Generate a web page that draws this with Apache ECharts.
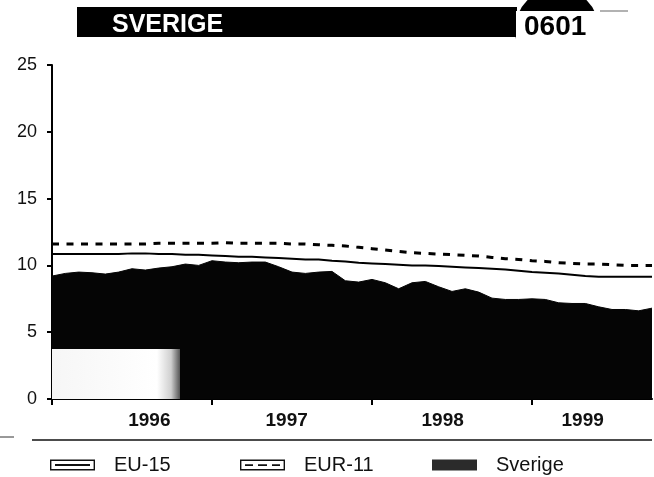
<!DOCTYPE html>
<html>
<head>
<meta charset="utf-8">
<script src="https://cdn.jsdelivr.net/npm/echarts@6/dist/echarts.min.js"></script>
<style>
  html, body { margin: 0; padding: 0; background: #fff; }
  #chart { width: 654px; height: 477px; }
</style>
</head>
<body>
<div id="chart"></div>
<script>
// maandelijkse waarden jan 1996 - okt 1999
var years = ["1996", "1997", "1998", "1999"];
var months = [];
years.forEach(function (y) {
  for (var m = 1; m <= 12; m++) {
    if (months.length < 46) months.push(y + "-" + (m < 10 ? "0" + m : m));
  }
});

var eu15 = [
  10.85, 10.85, 10.85, 10.85, 10.85, 10.85, 10.9, 10.9, 10.85, 10.85, 10.8, 10.8,
  10.75, 10.7, 10.65, 10.65, 10.6, 10.55, 10.5, 10.45, 10.45, 10.35, 10.3, 10.2,
  10.15, 10.1, 10.05, 10.0, 10.0, 9.95, 9.9, 9.85, 9.8, 9.75, 9.7, 9.6,
  9.5, 9.45, 9.4, 9.3, 9.2, 9.15, 9.15, 9.15, 9.15, 9.15
];
var eur11 = [
  11.6, 11.6, 11.6, 11.6, 11.6, 11.6, 11.6, 11.6, 11.65, 11.65, 11.65, 11.65,
  11.65, 11.7, 11.65, 11.65, 11.65, 11.65, 11.6, 11.6, 11.55, 11.5, 11.45, 11.35,
  11.25, 11.15, 11.05, 10.95, 10.9, 10.85, 10.8, 10.75, 10.7, 10.6, 10.5, 10.45,
  10.35, 10.3, 10.2, 10.15, 10.1, 10.1, 10.05, 10.0, 10.0, 10.0
];
var sverige = [
  9.2, 9.4, 9.5, 9.45, 9.35, 9.5, 9.75, 9.65, 9.8, 9.9, 10.1, 10.0,
  10.35, 10.25, 10.2, 10.25, 10.25, 9.9, 9.5, 9.4, 9.5, 9.55, 8.85, 8.75,
  8.95, 8.7, 8.25, 8.7, 8.8, 8.4, 8.05, 8.25, 8.0, 7.55, 7.45, 7.45,
  7.5, 7.45, 7.2, 7.15, 7.15, 6.9, 6.7, 6.7, 6.6, 6.8
];
var yTicks = [0, 5, 10, 15, 20, 25];

function pairs(arr) {
  return arr.map(function (v, i) { return [i, v]; });
}

var FONT = "Liberation Sans, Arial, sans-serif";
var iconSolid = "path://M0 0H45V11H0Z M1.4 1.4V9.6H43.6V1.4Z M5 4.6H40V6.6H5Z";
var iconDash = "path://M0 0H45V11H0Z M1.4 1.4V9.6H43.6V1.4Z M5 4.8H13V6.4H5Z M18 4.8H27V6.4H18Z M32 4.8H40V6.4H32Z";

function legendAt(left, name, icon, color) {
  return {
    left: left,
    top: 450,
    itemWidth: 45,
    itemHeight: 11,
    selectedMode: false,
    textStyle: { fontFamily: FONT, fontSize: 20, color: "#111", padding: [0, 0, 0, 14] },
    data: [{ name: name, icon: icon, itemStyle: { color: color, borderWidth: 0 } }],
  };
}

var myChart = echarts.init(document.getElementById("chart"), null, { renderer: "canvas" });
var option = {
  animation: false,
  backgroundColor: "#fff",
  grid: { left: 52, right: 2, top: 65, bottom: 78, containLabel: false },
  legend: [
    legendAt(45, "EU-15", iconSolid, "#111"),
    legendAt(235, "EUR-11", iconDash, "#111"),
    legendAt(427, "Sverige", "rect", "#2b2b2b"),
  ],
  xAxis: {
    type: "value",
    min: 0,
    max: months.length - 1,
    splitLine: { show: false },
    axisLine: { show: true, onZero: false, lineStyle: { color: "#000", width: 2 } },
    axisTick: {
      show: true,
      customValues: [0, 12, 24, 36],
      length: 6,
      lineStyle: { color: "#000", width: 2 },
    },
    axisLabel: {
      customValues: [7.3, 17.6, 29.3, 39.8],
      formatter: function (v) { return years[Math.floor(v / 12)]; },
      fontFamily: FONT,
      fontSize: 19,
      fontWeight: "bold",
      color: "#111",
      margin: 12,
    },
  },
  yAxis: {
    type: "value",
    min: yTicks[0],
    max: yTicks[yTicks.length - 1],
    interval: 5,
    splitLine: { show: false },
    axisLine: { show: true, lineStyle: { color: "#000", width: 2 } },
    axisTick: { show: true, length: 5, lineStyle: { color: "#000", width: 2 } },
    axisLabel: { fontFamily: FONT, fontSize: 18, color: "#111", margin: 15 },
  },
  series: [
    {
      name: "Sverige",
      type: "line",
      data: pairs(sverige),
      showSymbol: false,
      lineStyle: { color: "#050505", width: 1 },
      itemStyle: { color: "#050505" },
      areaStyle: { color: "#050505", opacity: 1 },
      z: 2,
      markArea: {
        silent: true,
        z: 5,
        itemStyle: {
          color: {
            type: "linear", x: 0, y: 0, x2: 1, y2: 0,
            colorStops: [
              { offset: 0, color: "#f6f6f6" },
              { offset: 0.82, color: "#ffffff" },
              { offset: 0.93, color: "#cfcfcf" },
              { offset: 1, color: "#555" },
            ],
          },
        },
        data: [[{ xAxis: 0, yAxis: 0 }, { xAxis: 9.6, yAxis: 3.75 }]],
      },
    },
    {
      name: "EU-15",
      type: "line",
      data: pairs(eu15),
      showSymbol: false,
      lineStyle: { color: "#000", width: 2 },
      itemStyle: { color: "#000" },
      z: 3,
    },
    {
      name: "EUR-11",
      type: "line",
      data: pairs(eur11),
      showSymbol: false,
      lineStyle: { color: "#000", width: 3, type: [7, 7.5] },
      itemStyle: { color: "#000" },
      z: 3,
    },
  ],
  graphic: [
    // kopbalk met cirkel
    { type: "rect", left: 77, top: 7, shape: { width: 440, height: 30 }, style: { fill: "#000" }, z: 10 },
    { type: "circle", shape: { cx: 557, cy: 30, r: 42 }, style: { fill: "#000" }, z: 10 },
    { type: "rect", left: 516, top: 11, shape: { width: 100, height: 65 }, style: { fill: "#fff" }, z: 11 },
    { type: "line", shape: { x1: 600, y1: 11, x2: 628, y2: 11 }, style: { stroke: "#999", lineWidth: 1.5 }, z: 11 },
    {
      type: "text", left: 112, top: 13, z: 12,
      style: { text: "SVERIGE", fill: "#fff", font: "bold 25px " + FONT },
    },
    {
      type: "text", left: 524, top: 13, z: 12,
      style: { text: "0601", fill: "#000", font: "bold 28px " + FONT },
    },
    // scheidingslijn boven legenda
    { type: "line", shape: { x1: 32, y1: 440, x2: 652, y2: 440 }, style: { stroke: "#111", lineWidth: 1.5 }, z: 10 },
    { type: "line", shape: { x1: 0, y1: 437, x2: 14, y2: 437 }, style: { stroke: "#333", lineWidth: 1 }, z: 10 },
  ],
};
myChart.setOption(option);
</script>
</body>
</html>
